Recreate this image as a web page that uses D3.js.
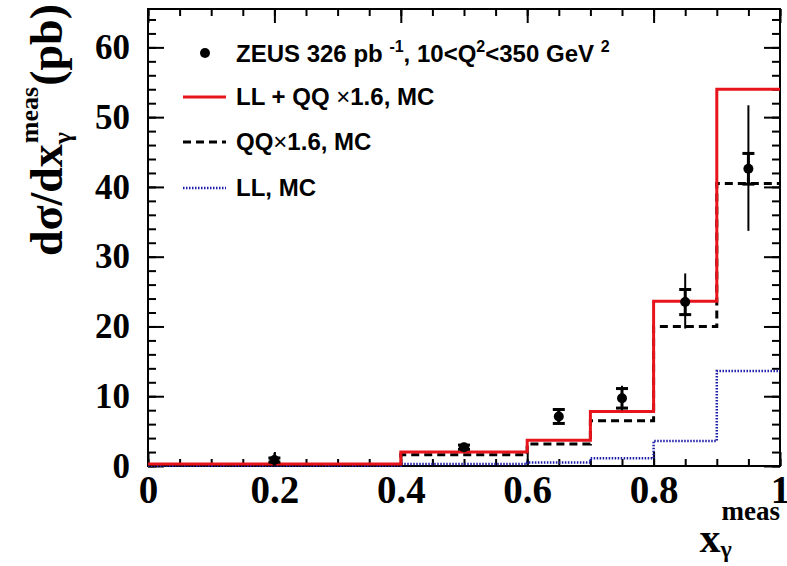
<!DOCTYPE html>
<html>
<head>
<meta charset="utf-8">
<script src="https://cdn.jsdelivr.net/npm/d3@7"></script>
<style>
  body { margin: 0; background: #fff; }
  svg { display: block; }
</style>
</head>
<body>
<div id="chart"></div>
<script>
// bin edges of x_gamma^meas and the three MC histograms (pb)
var binEdges = [0, 0.4, 0.6, 0.7, 0.8, 0.9, 1.0];
var llqq = [0.3, 2.0, 3.7, 7.8, 23.6, 54.0];
var qq = [0.2, 1.6, 3.15, 6.5, 20.0, 40.5];
var ll = [0.05, 0.3, 0.5, 1.1, 3.6, 13.6];

// ZEUS data points
var dataX = [0.2, 0.5, 0.65, 0.75, 0.85, 0.95];
var dataY = [0.85, 2.7, 7.1, 9.7, 23.5, 42.6];
var statErr = [0.3, 0.3, 1.0, 1.4, 1.8, 2.2];
var totUp = [1.0, 0.5, 1.0, 1.8, 4.1, 9.1];
var totDown = [0.9, 0.5, 1.0, 1.7, 3.8, 8.9];

var xTicks = [0, 0.2, 0.4, 0.6, 0.8, 1];
var yTicks = [0, 10, 20, 30, 40, 50, 60];

var W = 787, H = 566;
var margin = {top: 9, right: 7, bottom: 100, left: 148};

var svg = d3.select("#chart").append("svg")
    .attr("width", W)
    .attr("height", H);

var x = d3.scaleLinear().domain([0, 1]).range([margin.left, W - margin.right]);
var y = d3.scaleLinear().domain([0, 65.5]).range([H - margin.bottom, margin.top]);

var minorX = d3.range(0, 1.0001, 0.05);
var minorY = d3.range(0, 65, 2);

function styleAxis(g) {
  g.select(".domain").remove();
  g.selectAll(".tick line").attr("stroke", "#000").attr("stroke-width", 2);
}

// bottom axis
svg.append("g")
    .attr("transform", "translate(0," + y(0) + ")")
    .call(d3.axisBottom(x).tickValues(minorX).tickSize(-7).tickFormat(""))
    .call(styleAxis);
svg.append("g")
    .attr("transform", "translate(0," + y(0) + ")")
    .call(d3.axisBottom(x).tickValues(xTicks).tickSize(-14).tickSizeOuter(0).tickPadding(9)
      .tickFormat(function(d) { return d3.format("")(d); }))
    .call(styleAxis)
    .selectAll("text")
      .style("font-family", "'Liberation Serif', serif")
      .style("font-weight", "bold")
      .style("font-size", "39px")
      .attr("fill", "#000");

// top axis
svg.append("g")
    .attr("transform", "translate(0," + margin.top + ")")
    .call(d3.axisTop(x).tickValues(minorX).tickSize(-7).tickFormat(""))
    .call(styleAxis);
svg.append("g")
    .attr("transform", "translate(0," + margin.top + ")")
    .call(d3.axisTop(x).tickValues(xTicks).tickSize(-14).tickFormat(""))
    .call(styleAxis);

// left axis
svg.append("g")
    .attr("transform", "translate(" + margin.left + ",0)")
    .call(d3.axisLeft(y).tickValues(minorY).tickSize(-8).tickFormat(""))
    .call(styleAxis);
svg.append("g")
    .attr("transform", "translate(" + margin.left + ",0)")
    .call(d3.axisLeft(y).tickValues(yTicks).tickSize(-16).tickPadding(18))
    .call(styleAxis)
    .selectAll("text")
      .style("font-family", "'Liberation Serif', serif")
      .style("font-weight", "bold")
      .style("font-size", "35px")
      .attr("fill", "#000");

// right axis
svg.append("g")
    .attr("transform", "translate(" + (W - margin.right) + ",0)")
    .call(d3.axisRight(y).tickValues(minorY).tickSize(-8).tickFormat(""))
    .call(styleAxis);
svg.append("g")
    .attr("transform", "translate(" + (W - margin.right) + ",0)")
    .call(d3.axisRight(y).tickValues(yTicks).tickSize(-16).tickFormat(""))
    .call(styleAxis);

// frame
svg.append("rect")
    .attr("x", x(0))
    .attr("y", y.range()[1])
    .attr("width", x(1) - x(0))
    .attr("height", y(0) - y.range()[1])
    .attr("fill", "none")
    .attr("stroke", "#000")
    .attr("stroke-width", 2);

// histograms as step lines
function stepPoints(vals) {
  var pts = vals.map(function(v, i) { return [binEdges[i], v]; });
  pts.push([binEdges[binEdges.length - 1], vals[vals.length - 1]]);
  return pts;
}
var step = d3.line()
    .x(function(d) { return x(d[0]); })
    .y(function(d) { return y(d[1]); })
    .curve(d3.curveStepAfter);

svg.append("path")
    .attr("d", step(stepPoints(ll)))
    .attr("fill", "none")
    .attr("stroke", "#1c1ca8")
    .attr("stroke-width", 2.5)
    .attr("stroke-dasharray", "1.5,1.5");
svg.append("path")
    .attr("d", step(stepPoints(qq)))
    .attr("fill", "none")
    .attr("stroke", "#000")
    .attr("stroke-width", 3)
    .attr("stroke-dasharray", "8,5");
svg.append("path")
    .attr("d", step(stepPoints(llqq)))
    .attr("fill", "none")
    .attr("stroke", "#e8141b")
    .attr("stroke-width", 3);

// data points with stat (capped) and total errors
var pts = svg.append("g").selectAll("g")
    .data(dataX.map(function(d, i) { return i; }))
    .enter().append("g");
pts.append("line")
    .attr("x1", function(i) { return x(dataX[i]); })
    .attr("x2", function(i) { return x(dataX[i]); })
    .attr("y1", function(i) { return y(dataY[i] + totUp[i]); })
    .attr("y2", function(i) { return y(dataY[i] - totDown[i]); })
    .attr("stroke", "#000")
    .attr("stroke-width", 2);
pts.each(function(i) {
  var g = d3.select(this);
  [dataY[i] + statErr[i], dataY[i] - statErr[i]].forEach(function(v) {
    g.append("line")
        .attr("x1", x(dataX[i]) - 6)
        .attr("x2", x(dataX[i]) + 6)
        .attr("y1", y(v))
        .attr("y2", y(v))
        .attr("stroke", "#000")
        .attr("stroke-width", 3);
  });
  g.append("line")
      .attr("x1", x(dataX[i]))
      .attr("x2", x(dataX[i]))
      .attr("y1", y(dataY[i] + statErr[i]))
      .attr("y2", y(dataY[i] - statErr[i]))
      .attr("stroke", "#000")
      .attr("stroke-width", 3);
});
pts.append("circle")
    .attr("cx", function(i) { return x(dataX[i]); })
    .attr("cy", function(i) { return y(dataY[i]); })
    .attr("r", 5)
    .attr("fill", "#000");

// legend
var legFont = "'Liberation Sans', Arial, sans-serif";
var leg = svg.append("g")
    .style("font-family", legFont)
    .style("font-weight", "bold")
    .style("font-size", "24px");

leg.append("circle").attr("cx", 205).attr("cy", 53).attr("r", 5).attr("fill", "#000");
var t1 = leg.append("text").attr("x", 236).attr("y", 62);
t1.append("tspan").text("ZEUS 326 pb ");
t1.append("tspan").attr("dy", -10).style("font-size", "16px").text("-1");
t1.append("tspan").attr("dy", 10).text(", 10<Q");
t1.append("tspan").attr("dy", -10).style("font-size", "16px").text("2");
t1.append("tspan").attr("dy", 10).text("<350 GeV ");
t1.append("tspan").attr("dy", -10).style("font-size", "16px").text("2");

leg.append("line").attr("x1", 183).attr("x2", 226).attr("y1", 97).attr("y2", 97)
    .attr("stroke", "#e8141b").attr("stroke-width", 3);
var t2 = leg.append("text").attr("x", 236).attr("y", 105);
t2.append("tspan").text("LL + QQ ");
t2.append("tspan").style("font-weight", "normal").text("\u00d7");
t2.append("tspan").text("1.6, MC");

leg.append("line").attr("x1", 183).attr("x2", 226).attr("y1", 142).attr("y2", 142)
    .attr("stroke", "#000").attr("stroke-width", 3).attr("stroke-dasharray", "8,5");
var t3 = leg.append("text").attr("x", 236).attr("y", 150);
t3.append("tspan").text("QQ");
t3.append("tspan").style("font-weight", "normal").text("\u00d7");
t3.append("tspan").text("1.6, MC");

leg.append("line").attr("x1", 183).attr("x2", 226).attr("y1", 188).attr("y2", 188)
    .attr("stroke", "#1c1ca8").attr("stroke-width", 2.5).attr("stroke-dasharray", "1.5,1.5");
leg.append("text").attr("x", 236).attr("y", 196).text("LL, MC");

// axis titles
var serif = "'Liberation Serif', 'Times New Roman', serif";
function piece(g, txt, size, px, py) {
  return g.append("text")
      .attr("x", px).attr("y", py)
      .style("font-family", serif)
      .style("font-weight", "bold")
      .style("font-size", size + "px")
      .text(txt);
}

// x title: x_gamma^meas, right-aligned to the frame
var xt = svg.append("g");
var xMain = piece(xt, "x", 42, 0, 552);
var wx = xMain.node().getComputedTextLength();
var xSub = piece(xt, "\u03b3", 24, wx, 557);
var xSup = piece(xt, "meas", 27, wx + 1, 520);
var xw = wx + 1 + Math.max(xSub.node().getComputedTextLength(), xSup.node().getComputedTextLength());
xt.attr("transform", "translate(" + (x(1) - xw) + ",0)");

// y title: dsigma/dx_gamma^meas (pb), rotated, ending at the top of the frame
var yt = svg.append("g");
var yMain = piece(yt, "d\u03c3/dx", 46, 0, 0);
var w1 = yMain.node().getComputedTextLength();
var ySub = piece(yt, "\u03b3", 26, w1, 9);
var ySup = piece(yt, "meas", 26, w1 + 1, -24);
var w2 = w1 + 1 + Math.max(ySub.node().getComputedTextLength(), ySup.node().getComputedTextLength());
var yPb = piece(yt, "(pb)", 46, w2 + 1, 0);
var yw = w2 + 1 + yPb.node().getComputedTextLength();
yt.attr("transform", "translate(62," + (4 + yw) + ") rotate(-90)");
</script>
</body>
</html>
